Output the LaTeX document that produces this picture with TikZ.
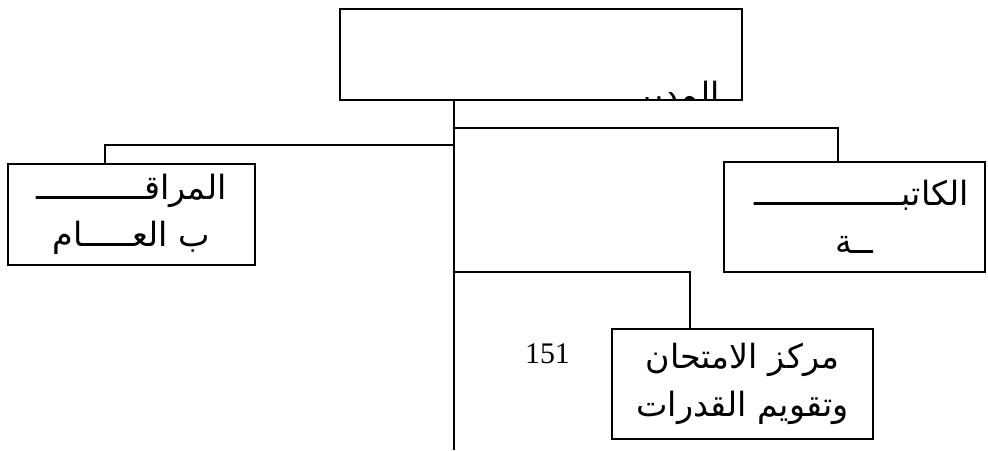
\documentclass[tikz,border=0pt]{standalone}
\usepackage{fontspec}
\usepackage{tikz}
\usetikzlibrary{positioning}
\TeXXeTstate=1
\newfontfamily\arabicfont[Script=Arabic]{DejaVu Sans}
\newfontfamily\numfont{Liberation Serif}
\newcommand{\ar}[1]{{\arabicfont\beginR #1\endR}}

\tikzset{
  unitbox/.style={draw=black, line width=0.8pt, fill=white, align=center, inner sep=0pt,
    font=\fontsize{19}{27}\selectfont},
  link/.style={draw=black, line width=0.8pt}
}

\begin{document}
\begin{tikzpicture}
\useasboundingbox (0,0) rectangle (19.76,-9);
% top box, with its title cut off at the bottom edge
\node[unitbox, minimum width=8.04cm, minimum height=1.82cm] (head) at (10.82,-1.09) {};
\begin{scope}
\clip (head.south west) rectangle (head.north east);
\node[anchor=base east, inner sep=0pt, font=\fontsize{19}{27}\selectfont] (headtxt) at (14.4,-2.12) {\ar{المدير}};
\end{scope}
\node[unitbox, minimum width=4.94cm, minimum height=2.02cm] (audit) at (2.63,-4.29) {\ar{المراقـــــــــــ}\\\ar{ب العـــــام}};
\node[unitbox, minimum width=5.22cm, minimum height=2.2cm] (secr) at (17.09,-4.34) {\hspace*{0.3cm}\ar{الكاتبـــــــــــــــ}\\\ar{ــة}};
\node[unitbox, minimum width=5.22cm, minimum height=2.2cm] (exam) at (14.85,-7.68) {\ar{مركز الامتحان}\\\ar{وتقويم القدرات}};
\node[font=\numfont\fontsize{17}{20}\selectfont, inner sep=0pt] (page) at (10.95,-7.08) {151};
% connectors
\coordinate (trunk) at (9.08,-1.09);
\coordinate (trunkend) at (9.08,-9);
\draw[link] (trunk |- head.south) -- (trunkend);
\draw[link] (9.08,-2.56) -| (secr.north -| 16.76,0);
\draw[link] (9.08,-2.9) -| (audit.north -| 2.1,0);
\draw[link] (9.08,-5.44) -| (exam.north -| 13.8,0);
\end{tikzpicture}
\end{document}
